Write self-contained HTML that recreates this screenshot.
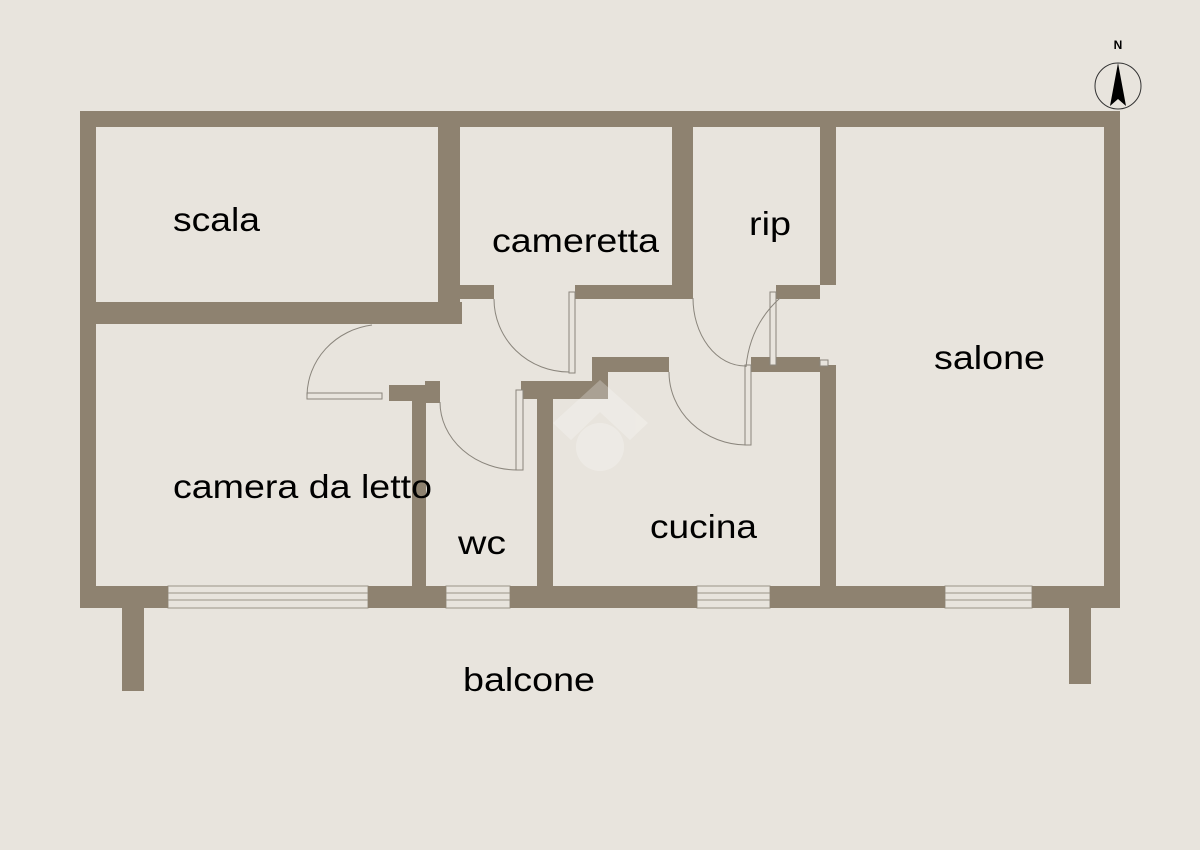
<!DOCTYPE html>
<html><head><meta charset="utf-8"><style>
html,body{margin:0;padding:0;background:#e8e4dd;}
svg{display:block}
text{font-family:"Liberation Sans",Arial,sans-serif;fill:#000}
</style></head><body>
<svg width="1200" height="850" viewBox="0 0 1200 850" xmlns="http://www.w3.org/2000/svg">
<rect width="1200" height="850" fill="#e8e4dd"/>
<g fill="#e8e4dd" stroke="#9a9488" stroke-width="1">
  <rect x="168" y="586" width="200" height="22"/>
  <rect x="446" y="586" width="64" height="22"/>
  <rect x="697" y="586" width="73" height="22"/>
  <rect x="945" y="586" width="87" height="22"/>
</g>
<g stroke="#9a9488" stroke-width="1">
  <line x1="168" y1="593" x2="368" y2="593"/><line x1="168" y1="600" x2="368" y2="600"/>
  <line x1="446" y1="593" x2="510" y2="593"/><line x1="446" y1="600" x2="510" y2="600"/>
  <line x1="697" y1="593" x2="770" y2="593"/><line x1="697" y1="600" x2="770" y2="600"/>
  <line x1="945" y1="593" x2="1032" y2="593"/><line x1="945" y1="600" x2="1032" y2="600"/>
</g>
<g fill="#8e8270">
  <rect x="80" y="111" width="1040" height="16"/>
  <rect x="80" y="111" width="16" height="497"/>
  <rect x="1104" y="111" width="16" height="497"/>
  <rect x="80" y="586" width="88" height="22"/>
  <rect x="368" y="586" width="78" height="22"/>
  <rect x="510" y="586" width="187" height="22"/>
  <rect x="770" y="586" width="175" height="22"/>
  <rect x="1032" y="586" width="88" height="22"/>
  <rect x="122" y="608" width="22" height="83"/>
  <rect x="1069" y="608" width="22" height="76"/>
  <rect x="96" y="302" width="366" height="22"/>
  <rect x="438" y="127" width="22" height="175"/>
  <rect x="460" y="285" width="34" height="14"/>
  <rect x="575" y="285" width="118" height="14"/>
  <rect x="672" y="127" width="21" height="172"/>
  <rect x="820" y="127" width="16" height="158"/>
  <rect x="776" y="285" width="44" height="14"/>
  <rect x="751" y="357" width="69" height="15"/>
  <rect x="820" y="365" width="16" height="221"/>
  <rect x="592" y="357" width="77" height="15"/>
  <rect x="592" y="357" width="16" height="42"/>
  <rect x="521" y="381" width="87" height="18"/>
  <rect x="537" y="381" width="16" height="205"/>
  <rect x="389" y="385" width="51" height="16"/>
  <rect x="425" y="381" width="15" height="22"/>
  <rect x="412" y="385" width="14" height="201"/>
</g>
<g fill="none" stroke="#8a857c" stroke-width="1">
  <rect x="307" y="393" width="75" height="6" fill="#e8e4dd"/>
  <path d="M307 396 A75 72 0 0 1 372 325"/>
  <rect x="569" y="292" width="6" height="81" fill="#e8e4dd"/>
  <path d="M494 299 A75 73 0 0 0 569 372"/>
  <rect x="516" y="390" width="7" height="80" fill="#e8e4dd"/>
  <path d="M440 402 A78 68 0 0 0 518 470"/>
  <rect x="745" y="365" width="6" height="80" fill="#e8e4dd"/>
  <path d="M669 372 A78 73 0 0 0 746 445"/>
  <rect x="770" y="292" width="6" height="73" fill="#e8e4dd"/>
  <path d="M693 298 A52 68 0 0 0 745 366"/>
  <path d="M780 298 Q750 325 746 367"/>
  <rect x="820" y="360" width="8" height="6" fill="#e8e4dd"/>
</g>
<g fill="#ffffff" opacity="0.25">
  <polygon points="553,423 600,380 648,423 630,440 600,412 571,440"/>
  <circle cx="600" cy="447" r="24"/>
</g>
<circle cx="1118" cy="86" r="23" fill="none" stroke="#333" stroke-width="1"/>
<polygon points="1118,63 1110,106 1118,99 1126,106" fill="#000"/>
<text x="1118" y="49" font-size="12" text-anchor="middle" font-weight="bold">N</text>
<g font-size="33">
<text x="173" y="231" textLength="87" lengthAdjust="spacingAndGlyphs">scala</text>
<text x="492" y="252" textLength="167" lengthAdjust="spacingAndGlyphs">cameretta</text>
<text x="749" y="235" textLength="42" lengthAdjust="spacingAndGlyphs">rip</text>
<text x="934" y="369" textLength="111" lengthAdjust="spacingAndGlyphs">salone</text>
<text x="173" y="498" textLength="259" lengthAdjust="spacingAndGlyphs">camera da letto</text>
<text x="458" y="554" textLength="48" lengthAdjust="spacingAndGlyphs">wc</text>
<text x="650" y="538" textLength="107" lengthAdjust="spacingAndGlyphs">cucina</text>
<text x="463" y="691" textLength="132" lengthAdjust="spacingAndGlyphs">balcone</text>
</g>
</svg>
</body></html>
